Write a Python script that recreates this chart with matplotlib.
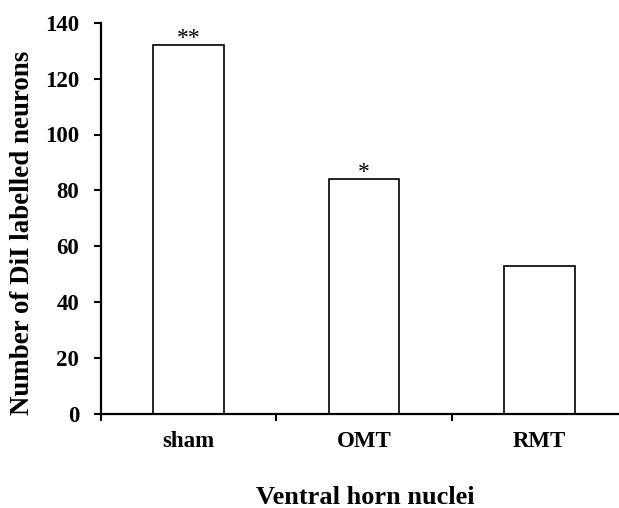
import numpy as np
import matplotlib
matplotlib.use("Agg")
import matplotlib.pyplot as plt

# data
groups = ["sham", "OMT", "RMT"]
neurons = [132, 84, 53]
stars = ["**", "*", ""]

plt.rcParams["font.family"] = "Liberation Serif"
plt.rcParams["font.weight"] = "bold"

W, H = 619, 508
fig = plt.figure(figsize=(W / 100, H / 100), dpi=100)

# axes box in pixels: y-axis at x=100.7, zero line at y=414, top (140) at y=22.7
left, bottom, top = 100.7, 414.0, 22.7
ax = fig.add_axes([left / W, 1 - bottom / H, 1 - left / W, (bottom - top) / H])

x = np.arange(len(groups))
ax.bar(x, neurons, width=0.4, color="white", edgecolor="black", linewidth=1.2)

for xi, n, s in zip(x, neurons, stars):
    if s:
        ax.text(xi, n + 0.3, s, ha="center", va="baseline",
                fontsize=17, fontweight="normal")

cat_w = 175.5
ax.set_xlim(-0.5, -0.5 + (W - left) / cat_w)
ax.set_ylim(0, 140)
ax.set_yticks(np.arange(0, 141, 20))

ax.set_xticks(x)
ax.set_xticklabels(groups)
ax.set_xticks(np.arange(-0.5, 2.0, 1.0), minor=True)
ax.tick_params(axis="x", which="major", length=0, pad=12, labelsize=16.5)
ax.tick_params(axis="x", which="minor", length=5, width=1.5, direction="out")
ax.tick_params(axis="y", length=5, width=1.5, direction="out", pad=10.5,
               labelsize=16.5)

for side in ["top", "right"]:
    ax.spines[side].set_visible(False)
for side in ["left", "bottom"]:
    ax.spines[side].set_linewidth(1.6)

fig.text(23 / W, 1 - 233 / H, "Number of DiI labelled neurons", rotation=90,
         ha="center", va="center", fontsize=19.4)
fig.text(365 / W, 1 - 504 / H, "Ventral horn nuclei", ha="center",
         va="baseline", fontsize=19)

fig.savefig("out.png", dpi=100)
